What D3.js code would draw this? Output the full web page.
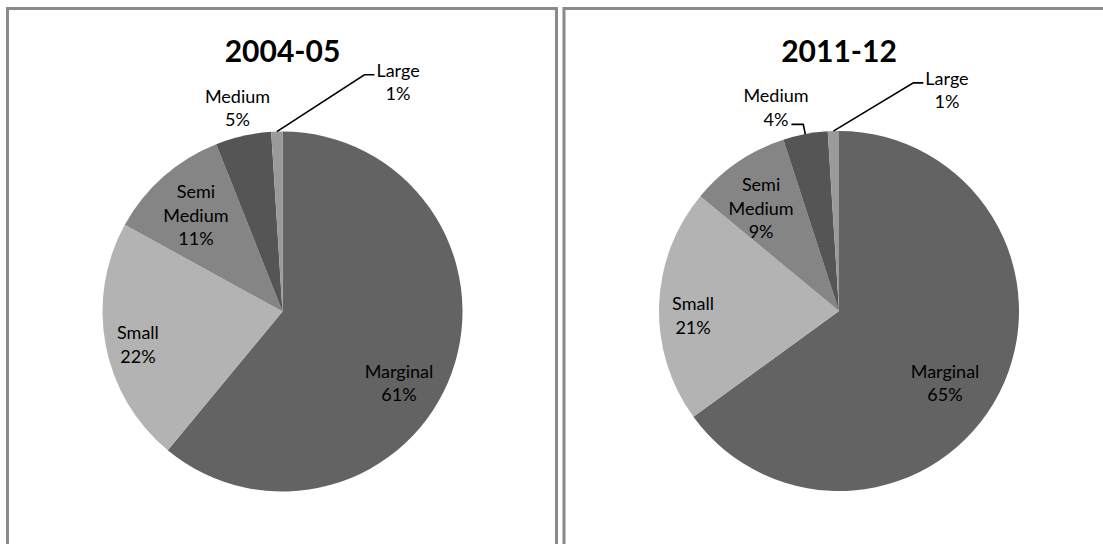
<!DOCTYPE html>
<html>
<head>
<meta charset="utf-8">
<script src="https://cdn.jsdelivr.net/npm/d3@7"></script>
<style>
  html, body { margin: 0; padding: 0; background: #ffffff; }
  svg { display: block; }
  text { font-family: Lato, "Open Sans", sans-serif; fill: #000; }
</style>
</head>
<body>
<svg id="chart" width="1103" height="544"></svg>
<script>
// ---- data ----
const categories = ["Marginal", "Small", "Semi Medium", "Medium", "Large"];
const titles = ["2004-05", "2011-12"];
const values2004 = [61, 22, 11, 5, 1];
const values2011 = [65, 21, 9, 4, 1];
const colors = ["#636363", "#b3b3b3", "#858585", "#555555", "#9a9a9a"];

// ---- layout (not data) ----
const W = 1103, H = 544;
const R = 180;
const panels = [
  { x: 7.5, y: 8.5, w: 549, h: 560, cx: 282.5, cy: 311.5, values: values2004, title: titles[0],
    // label block centres relative to pie centre, in units of radius
    labels: [[0.647, 0.397], [-0.803, 0.183], [-0.481, -0.536], [-0.25, -1.13], [0.642, -1.275]],
    leaders: { 4: "right" } },
  { x: 564, y: 8.5, w: 560, h: 560, cx: 839, cy: 311, values: values2011, title: titles[1],
    labels: [[0.589, 0.4], [-0.811, 0.025], [-0.433, -0.572], [-0.35, -1.13], [0.6, -1.227]],
    leaders: { 3: "left", 4: "right" } }
];
const FS = 18, LH = 23.5, CAP = 0.36 * FS;

const svg = d3.select("#chart");
const pie = d3.pie().sort(null).value(d => d.v).startAngle(0).endAngle(2 * Math.PI);
const arc = d3.arc().innerRadius(0).outerRadius(R);

panels.forEach(p => {
  const g = svg.append("g");
  g.append("rect")
    .attr("x", p.x).attr("y", p.y).attr("width", p.w).attr("height", p.h)
    .attr("fill", "#fff").attr("stroke", "#8a8a8a").attr("stroke-width", 3);

  g.append("text")
    .attr("x", p.cx).attr("y", 62)
    .attr("text-anchor", "middle")
    .style("font-size", "30px").style("font-weight", "bold")
    .text(p.title);

  const data = categories.map((c, i) => ({ name: c, v: p.values[i], i }));
  const arcs = pie(data);
  const pg = g.append("g").attr("transform", `translate(${p.cx},${p.cy})`);
  pg.selectAll("path").data(arcs).enter().append("path")
    .attr("d", arc)
    .attr("fill", d => colors[d.data.i]);

  arcs.forEach(a => {
    const i = a.data.i;
    const lines = a.data.name.split(" ").concat([a.data.v + "%"]);
    const lx = p.labels[i][0] * R, ly = p.labels[i][1] * R;
    const t = pg.append("text").attr("text-anchor", "middle").style("font-size", FS + "px");
    const tspans = [];
    lines.forEach((ln, k) => {
      const yc = ly + (k - (lines.length - 1) / 2) * LH;
      tspans.push(t.append("tspan").attr("x", lx).attr("y", yc + CAP).text(ln));
    });
    const side = p.leaders[i];
    if (side) {
      const mid = (a.startAngle + a.endAngle) / 2;
      const sx = Math.sin(mid) * R, sy = -Math.cos(mid) * R;
      let pts;
      if (side === "right") {
        const bb = tspans[0].node().getBBox();
        const yc = ly - (lines.length - 1) / 2 * LH + 4.5;
        const ex = bb.x - 2;
        pts = [[sx, sy], [ex - 10, yc], [ex, yc]];
      } else {
        const k = lines.length - 1;
        const bb = tspans[k].node().getBBox();
        const yc = ly + (k - (lines.length - 1) / 2) * LH + 5;
        const ex = bb.x + bb.width + 3;
        pts = [[sx, sy], [sx - 2, yc], [ex, yc]];
      }
      pg.append("path")
        .attr("d", d3.line()(pts))
        .attr("fill", "none").attr("stroke", "#000").attr("stroke-width", 1.6);
    }
  });
});
</script>
</body>
</html>
